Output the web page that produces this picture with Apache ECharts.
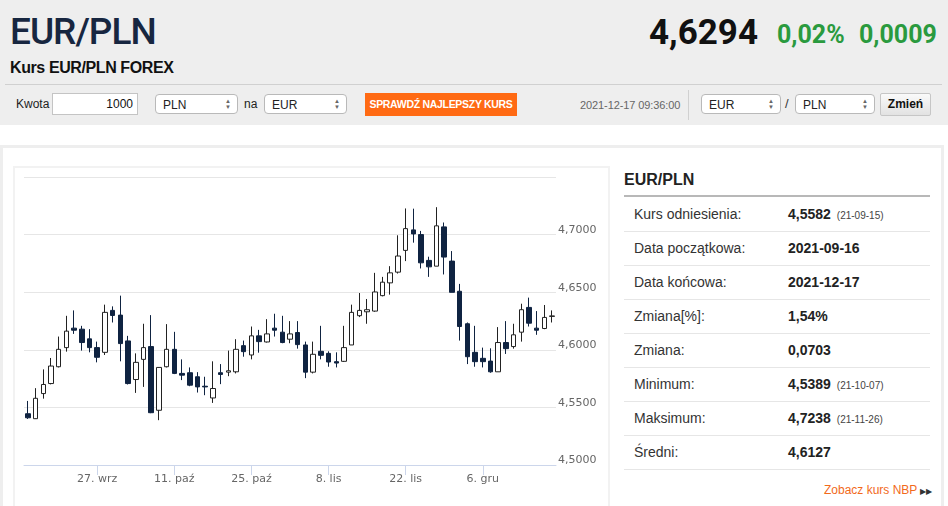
<!DOCTYPE html>
<html>
<head>
<meta charset="utf-8">
<script src="https://cdn.jsdelivr.net/npm/echarts@6/dist/echarts.min.js"></script>
<style>
  html,body{margin:0;padding:0;width:948px;height:506px;overflow:hidden;background:#fff;font-family:"Liberation Sans",Arial,sans-serif;}
  .abs{position:absolute;}
  #header{left:0;top:0;width:948px;height:125px;background:#eeeeee;}
  .sel{position:absolute;height:20px;border:1px solid #b9b9b9;border-radius:4px;background:#fff;font-size:12px;line-height:20px;color:#222;box-sizing:border-box;padding-left:7px;}
  .sel .arr{position:absolute;right:6px;top:3px;font-size:6px;line-height:6px;color:#666;}
  .row{position:absolute;left:624px;width:306px;height:34px;border-bottom:1px solid #e6e6e6;box-sizing:border-box;}
  .row .lab{position:absolute;left:10px;top:8px;font-size:14px;color:#333;}
  .row .val{position:absolute;left:164px;top:8px;font-size:14px;font-weight:bold;color:#222;}
  .row .dt{font-size:10px;font-weight:normal;color:#444;margin-left:6px;}
</style>
</head>
<body>
<div id="header" class="abs"></div>
<div class="abs" style="left:10px;top:10px;font-family:Roboto,sans-serif;font-weight:500;font-size:37px;color:#172640;letter-spacing:-1px;">EUR/PLN</div>
<div class="abs" style="left:649px;top:12px;font-family:Roboto,sans-serif;font-weight:700;font-size:35px;color:#111;">4,6294</div>
<div class="abs" style="left:777px;top:20px;font-family:Roboto,sans-serif;font-weight:700;font-size:25px;color:#2a9a3e;">0,02%</div>
<div class="abs" style="left:859px;top:20px;font-family:Roboto,sans-serif;font-weight:700;font-size:25px;color:#2a9a3e;">0,0009</div>
<div class="abs" style="left:10px;top:59px;font-weight:bold;font-size:16px;color:#111;letter-spacing:-0.4px;">Kurs EUR/PLN FOREX</div>
<div class="abs" style="left:5px;top:84px;width:937px;height:1px;background:#d0d0d0;"></div>

<div class="abs" style="left:16px;top:97px;font-size:12px;color:#222;">Kwota</div>
<div class="abs" style="left:52px;top:93px;width:86px;height:22px;background:#fff;border:1px solid #c4c4c4;box-sizing:border-box;font-size:12px;line-height:20px;text-align:right;padding-right:4px;color:#111;">1000</div>
<div class="sel" style="left:155px;top:94px;width:83px;">PLN<span class="arr">▲<br>▼</span></div>
<div class="abs" style="left:244px;top:97px;font-size:12px;color:#222;">na</div>
<div class="sel" style="left:264px;top:94px;width:83px;">EUR<span class="arr">▲<br>▼</span></div>
<div class="abs" style="left:365px;top:93px;width:152px;height:23px;background:#ff6a13;color:#fff;font-weight:bold;font-size:10.5px;line-height:23px;text-align:center;letter-spacing:-0.3px;">SPRAWDŹ NAJLEPSZY KURS</div>
<div class="abs" style="left:580px;top:99px;font-size:11px;color:#666;letter-spacing:-0.1px;">2021-12-17 09:36:00</div>
<div class="abs" style="left:688px;top:90px;width:1px;height:30px;background:#d0d0d0;"></div>
<div class="sel" style="left:701px;top:94px;width:80px;">EUR<span class="arr">▲<br>▼</span></div>
<div class="abs" style="left:785px;top:96px;font-size:13px;color:#333;">/</div>
<div class="sel" style="left:795px;top:94px;width:80px;">PLN<span class="arr">▲<br>▼</span></div>
<div class="abs" style="left:880px;top:93px;width:51px;height:23px;box-sizing:border-box;border:1px solid #c6c6c6;border-radius:2px;background:linear-gradient(#fafafa,#e2e2e2);font-weight:bold;font-size:12px;line-height:21px;text-align:center;color:#111;">Zmień</div>

<div class="abs" style="left:0px;top:145px;width:944px;height:370px;border:3px solid #eeeeee;box-sizing:border-box;"></div>
<div class="abs" style="left:13px;top:166px;width:597px;height:350px;border:2px solid #f2f2f2;box-sizing:border-box;"></div>
<div id="chart" class="abs" style="left:15px;top:169px;width:593px;height:337px;"></div>

<div class="abs" style="left:624px;top:171px;font-size:16px;font-weight:bold;color:#222;">EUR/PLN</div>
<div class="abs" style="left:624px;top:195px;width:306px;height:2px;background:#b8b8b8;"></div>
<div class="row" style="top:198px;"><span class="lab">Kurs odniesienia:</span><span class="val">4,5582<span class="dt">(21-09-15)</span></span></div>
<div class="row" style="top:232px;"><span class="lab">Data początkowa:</span><span class="val">2021-09-16</span></div>
<div class="row" style="top:266px;"><span class="lab">Data końcowa:</span><span class="val">2021-12-17</span></div>
<div class="row" style="top:300px;"><span class="lab">Zmiana[%]:</span><span class="val">1,54%</span></div>
<div class="row" style="top:334px;"><span class="lab">Zmiana:</span><span class="val">0,0703</span></div>
<div class="row" style="top:368px;"><span class="lab">Minimum:</span><span class="val">4,5389<span class="dt">(21-10-07)</span></span></div>
<div class="row" style="top:402px;"><span class="lab">Maksimum:</span><span class="val">4,7238<span class="dt">(21-11-26)</span></span></div>
<div class="row" style="top:436px;"><span class="lab">Średni:</span><span class="val">4,6127</span></div>
<div class="abs" style="left:824px;top:483px;font-size:12px;color:#f26a1b;">Zobacz kurs NBP <span style="color:#333;font-size:8px;">▶▶</span></div>

<script>
// Trading days (categories)
var dates = [
  '2021-09-14','2021-09-15','2021-09-16','2021-09-17','2021-09-20','2021-09-21','2021-09-22','2021-09-23','2021-09-24',
  '2021-09-27','2021-09-28','2021-09-29','2021-09-30','2021-10-01','2021-10-04','2021-10-05','2021-10-06','2021-10-07','2021-10-08',
  '2021-10-11','2021-10-12','2021-10-13','2021-10-14','2021-10-15','2021-10-18','2021-10-19','2021-10-20','2021-10-21','2021-10-22',
  '2021-10-25','2021-10-26','2021-10-27','2021-10-28','2021-10-29','2021-11-01','2021-11-02','2021-11-03','2021-11-04','2021-11-05',
  '2021-11-08','2021-11-09','2021-11-10','2021-11-11','2021-11-12','2021-11-15','2021-11-16','2021-11-17','2021-11-18','2021-11-19',
  '2021-11-22','2021-11-23','2021-11-24','2021-11-25','2021-11-26','2021-11-29','2021-11-30','2021-12-01','2021-12-02','2021-12-03',
  '2021-12-06','2021-12-07','2021-12-08','2021-12-09','2021-12-10','2021-12-13','2021-12-14','2021-12-15','2021-12-16','2021-12-17'
];
var openV = [
  4.5445,4.5402,4.5620,4.5707,4.5853,4.6019,4.6188,4.6179,4.6095,
  4.6019,4.5978,4.6342,4.6301,4.6077,4.5742,4.5917,4.6028,4.5475,4.5853,
  4.6004,4.5795,4.5801,4.5766,4.5684,4.5582,4.5801,4.5806,4.5809,4.6036,
  4.5955,4.6121,4.6068,4.6188,4.6153,4.6092,4.6150,4.6042,4.5806,4.5987,
  4.5969,4.5897,4.5900,4.6042,4.6296,4.6330,4.6336,4.6470,4.6581,4.6674,
  4.6863,4.7041,4.7000,4.6776,4.6726,4.7067,4.6770,4.6508,4.6226,4.5978,
  4.5926,4.5902,4.5809,4.6063,4.6028,4.6153,4.6368,4.6188,4.6185,4.6290
];
var closeV = [
  4.5410,4.5579,4.5699,4.5859,4.6004,4.6162,4.6170,4.6063,4.6019,
  4.5935,4.6325,4.6298,4.6054,4.5707,4.5891,4.6019,4.5454,4.5847,4.6004,
  4.5795,4.5780,4.5693,4.5678,4.5678,4.5664,4.5786,4.5818,4.6004,4.5984,
  4.6121,4.6071,4.6138,4.6170,4.6063,4.6138,4.6045,4.5806,4.5961,4.5952,
  4.5894,4.5885,4.6019,4.6325,4.6342,4.6348,4.6502,4.6587,4.6668,4.6814,
  4.7052,4.7006,4.6755,4.6720,4.7076,4.6805,4.6499,4.6202,4.5940,4.5897,
  4.5897,4.5809,4.6063,4.6010,4.6130,4.6348,4.6231,4.6170,4.6281,4.6294
];
var lowV = [
  4.5400,4.5400,4.5576,4.5700,4.5847,4.5984,4.6138,4.5993,4.5978,
  4.5891,4.5955,4.6237,4.5900,4.5699,4.5626,4.5678,4.5450,4.5389,4.5847,
  4.5789,4.5737,4.5684,4.5629,4.5606,4.5539,4.5702,4.5771,4.5795,4.5940,
  4.5917,4.5975,4.6063,4.6115,4.6057,4.6057,4.6010,4.5754,4.5795,4.5917,
  4.5853,4.5847,4.5894,4.6042,4.6284,4.6226,4.6330,4.6464,4.6479,4.6662,
  4.6770,4.6930,4.6706,4.6633,4.6726,4.6654,4.6499,4.6080,4.5876,4.5853,
  4.5847,4.5801,4.5809,4.5964,4.6010,4.6071,4.6202,4.6130,4.6179,4.6237
];
var highV = [
  4.5556,4.5667,4.5830,4.5929,4.6115,4.6295,4.6342,4.6208,4.6179,
  4.6071,4.6392,4.6377,4.6470,4.6121,4.5969,4.6226,4.6301,4.5850,4.6223,
  4.6156,4.5917,4.5847,4.5806,4.5766,4.5900,4.5876,4.5993,4.6092,4.6080,
  4.6202,4.6173,4.6266,4.6313,4.6295,4.6249,4.6249,4.6071,4.6071,4.6208,
  4.5987,4.5978,4.6208,4.6392,4.6493,4.6441,4.6668,4.6633,4.6726,4.6994,
  4.7227,4.7225,4.7032,4.6808,4.7238,4.7105,4.6857,4.6572,4.6237,4.6208,
  4.6019,4.6013,4.6197,4.6249,4.6226,4.6400,4.6453,4.6336,4.6389,4.6342
];
var tickDates  = ['2021-09-27','2021-10-11','2021-10-25','2021-11-08','2021-11-22','2021-12-06'];
var tickLabels = ['27. wrz','11. paź','25. paź','8. lis','22. lis','6. gru'];
var yMin = 4.5, yMax = 4.75, yStep = 0.05;

var ohlc = dates.map(function(d, i){ return [openV[i], closeV[i], lowV[i], highV[i]]; });
function isTick(idx){ return tickDates.indexOf(dates[idx]) >= 0; }

var chart = echarts.init(document.getElementById('chart'));
chart.setOption({
  animation: false,
  grid: {left: 9, right: 52, top: 8, bottom: 41},
  xAxis: {
    type: 'category',
    data: dates,
    boundaryGap: true,
    axisLine: {show: true, lineStyle: {color: '#ccd6eb', width: 1}},
    axisTick: {show: true, alignWithLabel: true, length: 10, interval: function(i){ return isTick(i); }, lineStyle: {color: '#ccd6eb'}},
    axisLabel: {
      interval: function(i){ return isTick(i); },
      formatter: function(v){ var k = tickDates.indexOf(v); return k >= 0 ? tickLabels[k] : ''; },
      color: '#666', fontSize: 11, fontFamily: 'DejaVu Sans', margin: 9
    },
    splitLine: {show: false}
  },
  yAxis: {
    type: 'value',
    position: 'right',
    min: yMin, max: yMax, interval: yStep,
    axisLine: {show: false},
    axisTick: {show: false},
    axisLabel: {
      showMaxLabel: false,
      formatter: function(v){ return v.toFixed(4).replace('.', ','); },
      color: '#666', fontSize: 11, fontFamily: 'DejaVu Sans', margin: 2,
      verticalAlign: 'bottom', lineHeight: 9
    },
    splitLine: {show: true, lineStyle: {color: '#e6e6e6', width: 1}}
  },
  series: [{
    type: 'candlestick',
    data: ohlc,
    barWidth: 5,
    itemStyle: {
      color: '#ffffff', color0: '#0f2341',
      borderColor: '#222222', borderColor0: '#0f2341',
      borderWidth: 1
    }
  }]
});
</script>
</body>
</html>
